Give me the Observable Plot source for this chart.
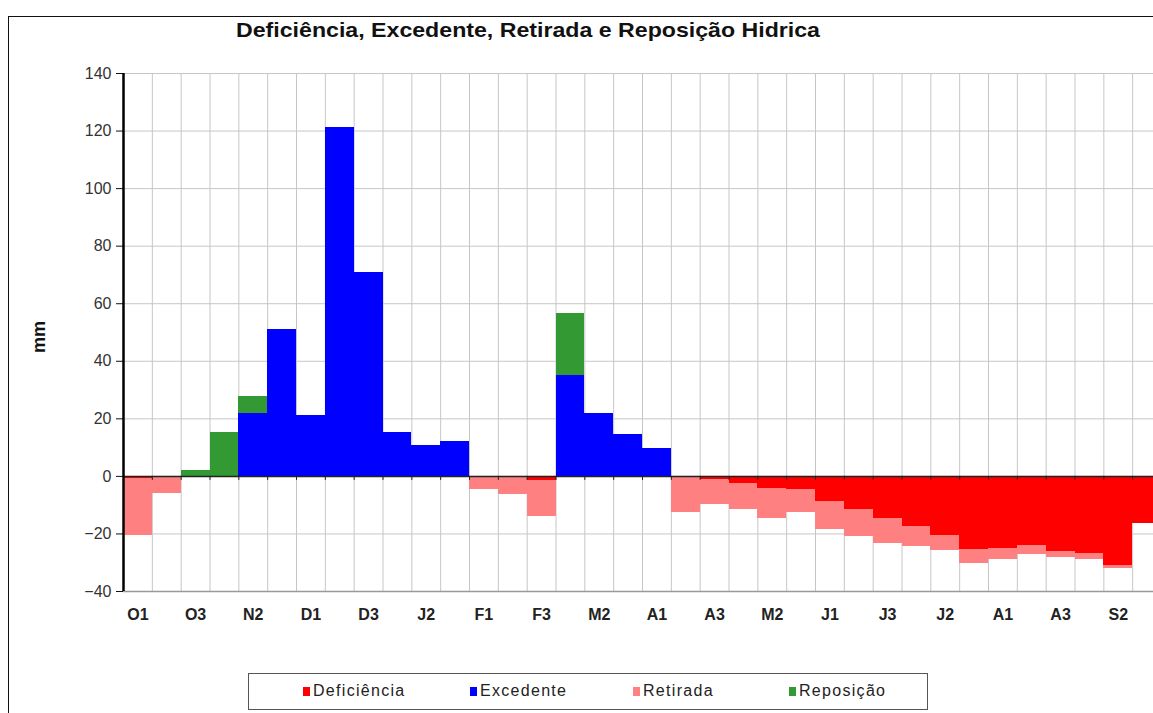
<!DOCTYPE html>
<html>
<head>
<meta charset="utf-8">
<script src="https://cdn.jsdelivr.net/npm/d3@7"></script>
<script src="https://cdn.jsdelivr.net/npm/@observablehq/plot@0.6"></script>
<style>
  html, body { margin: 0; padding: 0; background: #fff; width: 1153px; height: 713px; overflow: hidden; }
  #wrap { position: relative; width: 1153px; height: 713px; overflow: hidden; font-family: "Liberation Sans", Arial, sans-serif; background: #fff; }
  #frame { position: absolute; left: 8px; top: 16px; width: 1300px; height: 900px; border: 1.5px solid #111; box-sizing: border-box; }
  #title { position: absolute; left: 236px; top: 19px; font-weight: bold; font-size: 21px; line-height: 21px; color: #111; white-space: nowrap; transform-origin: 0 0; }
  #ylabel { position: absolute; left: 39px; top: 337px; transform: translate(-50%, -50%) rotate(-90deg); font-weight: bold; font-size: 18px; color: #111; }
  #chart { position: absolute; left: 0; top: 0; width: 1170px; }
  #legend { position: absolute; left: 248px; top: 673px; width: 680px; height: 37px; border: 1.5px solid #555; box-sizing: border-box; }
  .item { position: absolute; top: 0; height: 34px; display: flex; align-items: center; font-size: 16px; letter-spacing: 1.3px; color: #222; white-space: nowrap; }
  .sw { width: 7px; height: 9px; margin-right: 3px; }
</style>
</head>
<body>
<div id="wrap">
  <div id="frame"></div>
  <div id="chart"></div>
  <div id="title">Deficiência, Excedente, Retirada e Reposição Hidrica</div>
  <div id="ylabel">mm</div>
  <div id="legend"></div>
</div>
<script>
// Decêndios (Out–Set)
const decendios = ["O1","O2","O3","N1","N2","N3","D1","D2","D3","J1","J2","J3",
                   "F1","F2","F3","M1","M2","M3","A1","A2","A3","M1","M2","M3",
                   "J1","J2","J3","J1","J2","J3","A1","A2","A3","S1","S2","S3"];

const series = ["Deficiência", "Excedente", "Retirada", "Reposição"];
const colors = ["#ff0000", "#0000ff", "#ff8080", "#339933"];

// mm per decêndio
const deficiencia = [-0.7, 0, 0, 0, 0, 0, 0, 0, 0, 0, 0, 0,
                     0, 0, -1.5, 0, 0, 0, 0, -0.5, -1, -2.3, -4.3, -4.6,
                     -8.7, -11.6, -14.7, -17.4, -20.5, -25.3, -24.9, -24, -26, -26.8, -31.1, -16.3];
const excedente   = [0, 0, 0, 0, 22, 51, 21.2, 121.3, 70.9, 15.2, 10.8, 12.2,
                     0, 0, 0, 35, 22, 14.6, 9.6, 0, 0, 0, 0, 0,
                     0, 0, 0, 0, 0, 0, 0, 0, 0, 0, 0, 0];
const retirada    = [-19.8, -5.8, 0, 0, 0, 0, 0, 0, 0, 0, 0, 0,
                     -4.6, -6.3, -12.3, 0, 0, 0, 0, -12.2, -8.7, -9.2, -10.4, -8.0,
                     -9.7, -9.4, -8.7, -7.1, -5.4, -5.0, -4.0, -3.1, -2.1, -2.1, -0.9, 0];
const reposicao   = [0, 0, 2.1, 15.2, 5.8, 0, 0, 0, 0, 0, 0, 0,
                     0, 0, 0, 21.5, 0, 0, 0, 0, 0, 0, 0, 0,
                     0, 0, 0, 0, 0, 0, 0, 0, 0, 0, 0, 0];

const yTicks = [-40, -20, 0, 20, 40, 60, 80, 100, 120, 140];

// Build long table (input order = stacking order)
const seriesValues = [deficiencia, excedente, retirada, reposicao];
const table = [];
series.forEach((s, k) => {
  seriesValues[k].forEach((v, i) => {
    if (v !== 0) table.push({i, i1: i + 1, serie: s, v});
  });
});

const bounds = d3.range(decendios.length + 1);
const labelPos = decendios.map((d, i) => i).filter(i => i % 2 === 0).map(i => i + 0.5);

const chart = Plot.plot({
  width: 1170,
  height: 640,
  marginLeft: 123,
  marginRight: 9,
  marginTop: 73,
  marginBottom: 49,
  style: {fontFamily: "'Liberation Sans', Arial, sans-serif", background: "transparent", overflow: "visible", maxWidth: "none"},
  x: {domain: [0, decendios.length], axis: null},
  y: {domain: [yTicks[0], yTicks[yTicks.length - 1]], axis: null},
  color: {domain: series, range: colors},
  marks: [
    Plot.gridX(bounds, {stroke: "#c6c6c6", strokeOpacity: 1}),
    Plot.gridY(yTicks, {stroke: "#c6c6c6", strokeOpacity: 1}),
    Plot.rectY(table, {x1: "i", x2: "i1", y: "v", fill: "serie", shapeRendering: "crispEdges"}),
    Plot.ruleY([yTicks[0]], {stroke: "#999", strokeWidth: 1.5}),
    Plot.ruleY([0], {stroke: "#222", strokeWidth: 1.5}),
    Plot.ruleX(bounds, {y1: 0, y2: -1.4, stroke: "#222", strokeWidth: 1}),
    Plot.axisY(yTicks, {tickSize: 7, tickPadding: 5, fontSize: 16, label: null, stroke: "#111", color: "#333"}),
    Plot.ruleX([0], {stroke: "#000", strokeWidth: 2.5}),
    Plot.axisX(labelPos, {
      tickSize: 0, tickPadding: 17, fontSize: 16, fontWeight: "bold", label: null, color: "#222",
      tickFormat: d => decendios[Math.floor(d)]
    })
  ]
});
document.getElementById("chart").appendChild(chart);

// Title: fit to the reference width
const title = document.getElementById("title");
const tw = title.getBoundingClientRect().width;
title.style.transform = `scaleX(${584 / tw})`;

// Legend
const legend = document.getElementById("legend");
const legendLeft = [54, 221, 384, 540];
series.forEach((s, k) => {
  const it = document.createElement("div");
  it.className = "item";
  it.style.left = legendLeft[k] + "px";
  const sw = document.createElement("span");
  sw.className = "sw";
  sw.style.background = colors[k];
  const tx = document.createElement("span");
  tx.textContent = s;
  it.appendChild(sw);
  it.appendChild(tx);
  legend.appendChild(it);
});
</script>
</body>
</html>
